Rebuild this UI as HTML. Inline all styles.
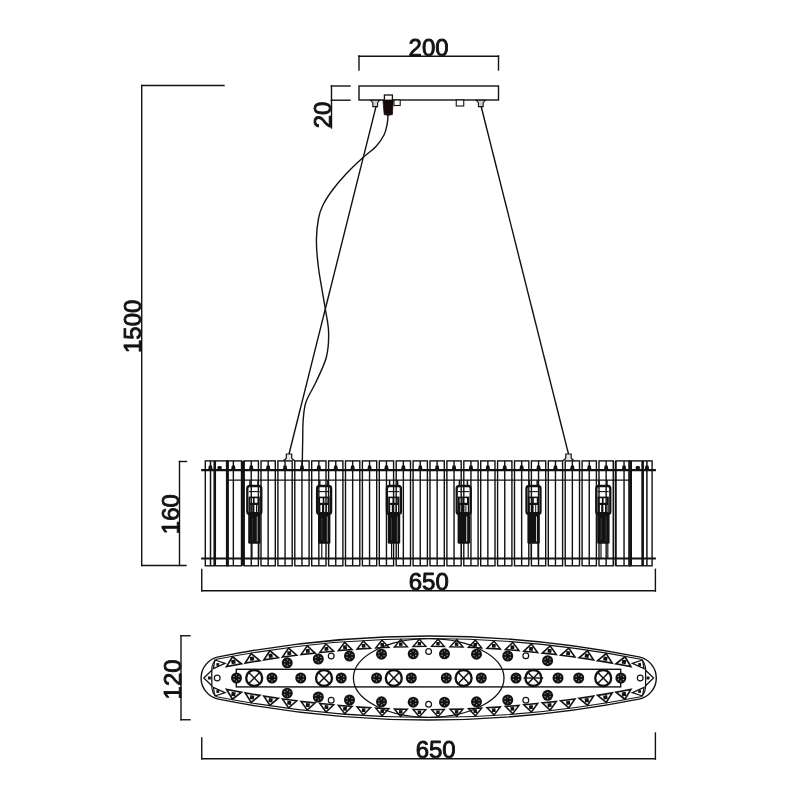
<!DOCTYPE html>
<html lang="en"><head><meta charset="utf-8"><title>Pendant lamp dimensions</title>
<style>
html,body{margin:0;padding:0;background:#fff;}
body{width:800px;height:800px;overflow:hidden;}
svg{display:block;will-change:transform;}
text{font-family:"Liberation Sans",sans-serif;}
</style></head><body>
<svg width="800" height="800" viewBox="0 0 800 800">
<rect width="800" height="800" fill="#ffffff"/>
<g id="dims" fill="none" stroke-linecap="square">
<line x1="359.00" y1="56.20" x2="498.50" y2="56.20" stroke="#121212" stroke-width="1.4" />
<line x1="359.00" y1="56.00" x2="359.00" y2="70.00" stroke="#121212" stroke-width="1.4" />
<line x1="498.50" y1="56.00" x2="498.50" y2="70.00" stroke="#121212" stroke-width="1.4" />
<line x1="331.30" y1="86.00" x2="350.00" y2="86.00" stroke="#121212" stroke-width="1.4" />
<line x1="331.30" y1="100.20" x2="350.00" y2="100.20" stroke="#121212" stroke-width="1.4" />
<line x1="331.50" y1="86.00" x2="331.50" y2="128.00" stroke="#121212" stroke-width="1.4" />
<line x1="141.70" y1="85.50" x2="224.00" y2="85.50" stroke="#121212" stroke-width="1.4" />
<line x1="141.70" y1="85.50" x2="141.70" y2="565.50" stroke="#121212" stroke-width="1.4" />
<line x1="141.70" y1="565.50" x2="186.00" y2="565.50" stroke="#121212" stroke-width="1.4" />
<line x1="179.50" y1="461.50" x2="179.50" y2="565.50" stroke="#121212" stroke-width="1.4" />
<line x1="179.50" y1="461.50" x2="186.50" y2="461.50" stroke="#121212" stroke-width="1.4" />
<line x1="201.75" y1="569.50" x2="201.75" y2="590.70" stroke="#121212" stroke-width="1.4" />
<line x1="201.75" y1="590.70" x2="655.40" y2="590.70" stroke="#121212" stroke-width="1.4" />
<line x1="655.40" y1="569.30" x2="655.40" y2="591.00" stroke="#121212" stroke-width="1.4" />
<line x1="181.00" y1="635.75" x2="181.00" y2="719.75" stroke="#121212" stroke-width="1.4" />
<line x1="181.00" y1="635.75" x2="190.00" y2="635.75" stroke="#121212" stroke-width="1.4" />
<line x1="181.00" y1="719.75" x2="190.00" y2="719.75" stroke="#121212" stroke-width="1.4" />
<line x1="201.75" y1="738.00" x2="201.75" y2="758.80" stroke="#121212" stroke-width="1.4" />
<line x1="201.75" y1="758.80" x2="655.40" y2="758.80" stroke="#121212" stroke-width="1.4" />
<line x1="655.40" y1="733.00" x2="655.40" y2="759.00" stroke="#121212" stroke-width="1.4" />
</g>
<g id="labels" font-family="'Liberation Sans', sans-serif" fill="#121212" stroke="#121212" stroke-width="0.9" stroke-linejoin="round">
<text x="428.6" y="55.6" font-size="24" text-anchor="middle">200</text>
<text transform="translate(330.8,115) rotate(-90)" font-size="24" text-anchor="middle">20</text>
<text transform="translate(141.3,326.3) rotate(-90)" font-size="24" text-anchor="middle">1500</text>
<text transform="translate(179.0,514.2) rotate(-90)" font-size="24" text-anchor="middle">160</text>
<text x="428.75" y="590.2" font-size="24" text-anchor="middle">650</text>
<text transform="translate(181.0,679.4) rotate(-90)" font-size="24" text-anchor="middle">120</text>
<text x="435.7" y="758.3" font-size="24" text-anchor="middle">650</text>
</g>
<g id="canopy">
<rect x="359" y="86" width="139.5" height="14" fill="#fff" stroke="#121212" stroke-width="1.4"/>
<rect x="394" y="100" width="6.2" height="5.5" fill="#fff" stroke="#121212" stroke-width="1.1"/>
<rect x="456.25" y="100" width="7.5" height="6" fill="#fff" stroke="#121212" stroke-width="1.1"/>
<path d="M370.59999999999997 100.3 L372.8 102.6 L372.8 106.6 L377.59999999999997 106.6 L377.59999999999997 102.6 L379.8 100.3 Z" fill="#cfcfcf" stroke="#121212" stroke-width="1.1"/>
<path d="M476.2 100.3 L478.40000000000003 102.6 L478.40000000000003 106.6 L483.2 106.6 L483.2 102.6 L485.40000000000003 100.3 Z" fill="#cfcfcf" stroke="#121212" stroke-width="1.1"/>
<rect x="384.4" y="95" width="8" height="6" fill="#fff" stroke="#121212" stroke-width="1.3"/>
<path d="M383 100 L393.2 100 L392.4 114.6 Q388 116 384.2 114.6 Z" fill="#160808" stroke="#160808" stroke-width="0.8"/>
</g>
<g id="wires" fill="none">
<line x1="376.00" y1="106.60" x2="289.00" y2="454.00" stroke="#121212" stroke-width="1.4" />
<line x1="481.30" y1="107.00" x2="568.50" y2="454.00" stroke="#121212" stroke-width="1.4" />
<path d="M388 115 C387.87 116.50 387.87 120.67 387.2 124 C386.53 127.33 385.95 131.17 384 135 C382.05 138.83 379.08 143.17 375.5 147 C371.92 150.83 367.42 153.50 362.5 158 C357.58 162.50 351.00 168.67 346 174 C341.00 179.33 336.33 184.83 332.5 190 C328.67 195.17 325.32 200.33 323 205 C320.68 209.67 319.70 212.17 318.6 218 C317.50 223.83 316.42 231.67 316.4 240 C316.38 248.33 317.07 256.83 318.5 268 C319.93 279.17 323.32 296.33 325 307 C326.68 317.67 328.37 323.67 328.6 332 C328.83 340.33 328.50 348.67 326.4 357 C324.30 365.33 319.40 374.50 316 382 C312.60 389.50 308.13 395.67 306 402 C303.87 408.33 303.75 413.67 303.2 420 C302.65 426.33 302.87 432.00 302.7 440 C302.53 448.00 302.28 463.33 302.2 468" stroke="#121212" stroke-width="1.4"/>
</g>
<g id="fixture">
<path d="M283.2 460.6 Q285.6 459.6 286.3 458 L286.3 454 L291.7 454 L291.7 458 Q292.4 459.6 294.8 460.6" fill="#e4e4e4" stroke="#121212" stroke-width="1.2"/>
<path d="M562.7 460.6 Q565.1 459.6 565.8 458 L565.8 454 L571.2 454 L571.2 458 Q571.9 459.6 574.3 460.6" fill="#e4e4e4" stroke="#121212" stroke-width="1.2"/>
<g transform="translate(254.20,0)">
<line x1="-4.20" y1="480.20" x2="-4.20" y2="486.00" stroke="#121212" stroke-width="1.5" />
<line x1="3.80" y1="480.20" x2="3.80" y2="486.00" stroke="#121212" stroke-width="1.5" />
<line x1="-2.20" y1="543.00" x2="-2.20" y2="558.50" stroke="#121212" stroke-width="1.2" />
<line x1="4.60" y1="543.00" x2="4.60" y2="558.50" stroke="#121212" stroke-width="1.2" />
<rect x="-6.9" y="486" width="14" height="28" rx="2.6" fill="#fff" stroke="#121212" stroke-width="2.3"/>
<line x1="-5.50" y1="491.60" x2="5.50" y2="491.60" stroke="#121212" stroke-width="1.1" />
<rect x="-5.6" y="496.6" width="11.2" height="16.5" fill="#121212"/>
<rect x="-3.9" y="498.2" width="2.6" height="4.6" fill="#fff"/>
<rect x="0.4" y="498.2" width="3" height="4.6" fill="#fff"/>
<rect x="-3.6" y="505" width="1.6" height="7" fill="#fff"/>
<rect x="0.2" y="505" width="1.6" height="7" fill="#fff"/>
<rect x="2.8" y="505" width="1.4" height="7" fill="#fff"/>
<rect x="-6.0" y="514" width="12.4" height="29.8" rx="1.6" fill="#121212"/>
<rect x="2.6" y="516.5" width="1.0" height="25" fill="#c8c8c8"/>
<rect x="-2.4" y="518" width="0.6" height="22" fill="#555"/>
</g>
<g transform="translate(324.00,0)">
<line x1="-4.20" y1="480.20" x2="-4.20" y2="486.00" stroke="#121212" stroke-width="1.5" />
<line x1="3.80" y1="480.20" x2="3.80" y2="486.00" stroke="#121212" stroke-width="1.5" />
<line x1="-2.20" y1="543.00" x2="-2.20" y2="558.50" stroke="#121212" stroke-width="1.2" />
<line x1="4.60" y1="543.00" x2="4.60" y2="558.50" stroke="#121212" stroke-width="1.2" />
<rect x="-6.9" y="486" width="14" height="28" rx="2.6" fill="#fff" stroke="#121212" stroke-width="2.3"/>
<line x1="-5.50" y1="491.60" x2="5.50" y2="491.60" stroke="#121212" stroke-width="1.1" />
<rect x="-5.6" y="496.6" width="11.2" height="16.5" fill="#121212"/>
<rect x="-3.9" y="498.2" width="2.6" height="4.6" fill="#fff"/>
<rect x="0.4" y="498.2" width="3" height="4.6" fill="#fff"/>
<rect x="-3.6" y="505" width="1.6" height="7" fill="#fff"/>
<rect x="0.2" y="505" width="1.6" height="7" fill="#fff"/>
<rect x="2.8" y="505" width="1.4" height="7" fill="#fff"/>
<rect x="-6.0" y="514" width="12.4" height="29.8" rx="1.6" fill="#121212"/>
<rect x="2.6" y="516.5" width="1.0" height="25" fill="#c8c8c8"/>
<rect x="-2.4" y="518" width="0.6" height="22" fill="#555"/>
</g>
<g transform="translate(393.80,0)">
<line x1="-4.20" y1="480.20" x2="-4.20" y2="486.00" stroke="#121212" stroke-width="1.5" />
<line x1="3.80" y1="480.20" x2="3.80" y2="486.00" stroke="#121212" stroke-width="1.5" />
<line x1="-2.20" y1="543.00" x2="-2.20" y2="558.50" stroke="#121212" stroke-width="1.2" />
<line x1="4.60" y1="543.00" x2="4.60" y2="558.50" stroke="#121212" stroke-width="1.2" />
<rect x="-6.9" y="486" width="14" height="28" rx="2.6" fill="#fff" stroke="#121212" stroke-width="2.3"/>
<line x1="-5.50" y1="491.60" x2="5.50" y2="491.60" stroke="#121212" stroke-width="1.1" />
<rect x="-5.6" y="496.6" width="11.2" height="16.5" fill="#121212"/>
<rect x="-3.9" y="498.2" width="2.6" height="4.6" fill="#fff"/>
<rect x="0.4" y="498.2" width="3" height="4.6" fill="#fff"/>
<rect x="-3.6" y="505" width="1.6" height="7" fill="#fff"/>
<rect x="0.2" y="505" width="1.6" height="7" fill="#fff"/>
<rect x="2.8" y="505" width="1.4" height="7" fill="#fff"/>
<rect x="-6.0" y="514" width="12.4" height="29.8" rx="1.6" fill="#121212"/>
<rect x="2.6" y="516.5" width="1.0" height="25" fill="#c8c8c8"/>
<rect x="-2.4" y="518" width="0.6" height="22" fill="#555"/>
</g>
<g transform="translate(463.60,0)">
<line x1="-4.20" y1="480.20" x2="-4.20" y2="486.00" stroke="#121212" stroke-width="1.5" />
<line x1="3.80" y1="480.20" x2="3.80" y2="486.00" stroke="#121212" stroke-width="1.5" />
<line x1="-2.20" y1="543.00" x2="-2.20" y2="558.50" stroke="#121212" stroke-width="1.2" />
<line x1="4.60" y1="543.00" x2="4.60" y2="558.50" stroke="#121212" stroke-width="1.2" />
<rect x="-6.9" y="486" width="14" height="28" rx="2.6" fill="#fff" stroke="#121212" stroke-width="2.3"/>
<line x1="-5.50" y1="491.60" x2="5.50" y2="491.60" stroke="#121212" stroke-width="1.1" />
<rect x="-5.6" y="496.6" width="11.2" height="16.5" fill="#121212"/>
<rect x="-3.9" y="498.2" width="2.6" height="4.6" fill="#fff"/>
<rect x="0.4" y="498.2" width="3" height="4.6" fill="#fff"/>
<rect x="-3.6" y="505" width="1.6" height="7" fill="#fff"/>
<rect x="0.2" y="505" width="1.6" height="7" fill="#fff"/>
<rect x="2.8" y="505" width="1.4" height="7" fill="#fff"/>
<rect x="-6.0" y="514" width="12.4" height="29.8" rx="1.6" fill="#121212"/>
<rect x="2.6" y="516.5" width="1.0" height="25" fill="#c8c8c8"/>
<rect x="-2.4" y="518" width="0.6" height="22" fill="#555"/>
</g>
<g transform="translate(533.40,0)">
<line x1="-4.20" y1="480.20" x2="-4.20" y2="486.00" stroke="#121212" stroke-width="1.5" />
<line x1="3.80" y1="480.20" x2="3.80" y2="486.00" stroke="#121212" stroke-width="1.5" />
<line x1="-2.20" y1="543.00" x2="-2.20" y2="558.50" stroke="#121212" stroke-width="1.2" />
<line x1="4.60" y1="543.00" x2="4.60" y2="558.50" stroke="#121212" stroke-width="1.2" />
<rect x="-6.9" y="486" width="14" height="28" rx="2.6" fill="#fff" stroke="#121212" stroke-width="2.3"/>
<line x1="-5.50" y1="491.60" x2="5.50" y2="491.60" stroke="#121212" stroke-width="1.1" />
<rect x="-5.6" y="496.6" width="11.2" height="16.5" fill="#121212"/>
<rect x="-3.9" y="498.2" width="2.6" height="4.6" fill="#fff"/>
<rect x="0.4" y="498.2" width="3" height="4.6" fill="#fff"/>
<rect x="-3.6" y="505" width="1.6" height="7" fill="#fff"/>
<rect x="0.2" y="505" width="1.6" height="7" fill="#fff"/>
<rect x="2.8" y="505" width="1.4" height="7" fill="#fff"/>
<rect x="-6.0" y="514" width="12.4" height="29.8" rx="1.6" fill="#121212"/>
<rect x="2.6" y="516.5" width="1.0" height="25" fill="#c8c8c8"/>
<rect x="-2.4" y="518" width="0.6" height="22" fill="#555"/>
</g>
<g transform="translate(603.20,0)">
<line x1="-4.20" y1="480.20" x2="-4.20" y2="486.00" stroke="#121212" stroke-width="1.5" />
<line x1="3.80" y1="480.20" x2="3.80" y2="486.00" stroke="#121212" stroke-width="1.5" />
<line x1="-2.20" y1="543.00" x2="-2.20" y2="558.50" stroke="#121212" stroke-width="1.2" />
<line x1="4.60" y1="543.00" x2="4.60" y2="558.50" stroke="#121212" stroke-width="1.2" />
<rect x="-6.9" y="486" width="14" height="28" rx="2.6" fill="#fff" stroke="#121212" stroke-width="2.3"/>
<line x1="-5.50" y1="491.60" x2="5.50" y2="491.60" stroke="#121212" stroke-width="1.1" />
<rect x="-5.6" y="496.6" width="11.2" height="16.5" fill="#121212"/>
<rect x="-3.9" y="498.2" width="2.6" height="4.6" fill="#fff"/>
<rect x="0.4" y="498.2" width="3" height="4.6" fill="#fff"/>
<rect x="-3.6" y="505" width="1.6" height="7" fill="#fff"/>
<rect x="0.2" y="505" width="1.6" height="7" fill="#fff"/>
<rect x="2.8" y="505" width="1.4" height="7" fill="#fff"/>
<rect x="-6.0" y="514" width="12.4" height="29.8" rx="1.6" fill="#121212"/>
<rect x="2.6" y="516.5" width="1.0" height="25" fill="#c8c8c8"/>
<rect x="-2.4" y="518" width="0.6" height="22" fill="#555"/>
</g>
<rect x="227.20" y="460.9" width="14.30" height="104.90" fill="none" stroke="#121212" stroke-width="1.4"/>
<line x1="233.35" y1="460.90" x2="233.35" y2="565.80" stroke="#121212" stroke-width="1.4" />
<path d="M231.05 470.1 L231.85 465.6 L234.85 465.6 L235.65 470.1 Z" fill="#121212"/>
<rect x="244.10" y="460.9" width="14.30" height="104.90" fill="none" stroke="#121212" stroke-width="1.4"/>
<line x1="251.25" y1="460.90" x2="251.25" y2="565.80" stroke="#121212" stroke-width="1.4" />
<path d="M248.95 470.1 L249.75 465.6 L252.75 465.6 L253.55 470.1 Z" fill="#121212"/>
<rect x="261.00" y="460.9" width="14.30" height="104.90" fill="none" stroke="#121212" stroke-width="1.4"/>
<line x1="268.15" y1="460.90" x2="268.15" y2="565.80" stroke="#121212" stroke-width="1.4" />
<path d="M265.85 470.1 L266.65 465.6 L269.65 465.6 L270.45 470.1 Z" fill="#121212"/>
<rect x="277.90" y="460.9" width="14.30" height="104.90" fill="none" stroke="#121212" stroke-width="1.4"/>
<line x1="285.05" y1="460.90" x2="285.05" y2="565.80" stroke="#121212" stroke-width="1.4" />
<path d="M282.75 470.1 L283.55 465.6 L286.55 465.6 L287.35 470.1 Z" fill="#121212"/>
<rect x="294.80" y="460.9" width="14.30" height="104.90" fill="none" stroke="#121212" stroke-width="1.4"/>
<line x1="301.95" y1="460.90" x2="301.95" y2="565.80" stroke="#121212" stroke-width="1.4" />
<path d="M299.65 470.1 L300.45 465.6 L303.45 465.6 L304.25 470.1 Z" fill="#121212"/>
<rect x="311.70" y="460.9" width="14.30" height="104.90" fill="none" stroke="#121212" stroke-width="1.4"/>
<line x1="318.85" y1="460.90" x2="318.85" y2="565.80" stroke="#121212" stroke-width="1.4" />
<path d="M316.55 470.1 L317.35 465.6 L320.35 465.6 L321.15 470.1 Z" fill="#121212"/>
<rect x="328.60" y="460.9" width="14.30" height="104.90" fill="none" stroke="#121212" stroke-width="1.4"/>
<line x1="335.75" y1="460.90" x2="335.75" y2="565.80" stroke="#121212" stroke-width="1.4" />
<path d="M333.45 470.1 L334.25 465.6 L337.25 465.6 L338.05 470.1 Z" fill="#121212"/>
<rect x="345.50" y="460.9" width="14.30" height="104.90" fill="none" stroke="#121212" stroke-width="1.4"/>
<line x1="352.65" y1="460.90" x2="352.65" y2="565.80" stroke="#121212" stroke-width="1.4" />
<path d="M350.35 470.1 L351.15 465.6 L354.15 465.6 L354.95 470.1 Z" fill="#121212"/>
<rect x="362.40" y="460.9" width="14.30" height="104.90" fill="none" stroke="#121212" stroke-width="1.4"/>
<line x1="369.55" y1="460.90" x2="369.55" y2="565.80" stroke="#121212" stroke-width="1.4" />
<path d="M367.25 470.1 L368.05 465.6 L371.05 465.6 L371.85 470.1 Z" fill="#121212"/>
<rect x="379.30" y="460.9" width="14.30" height="104.90" fill="none" stroke="#121212" stroke-width="1.4"/>
<line x1="386.45" y1="460.90" x2="386.45" y2="565.80" stroke="#121212" stroke-width="1.4" />
<path d="M384.15 470.1 L384.95 465.6 L387.95 465.6 L388.75 470.1 Z" fill="#121212"/>
<rect x="396.20" y="460.9" width="14.30" height="104.90" fill="none" stroke="#121212" stroke-width="1.4"/>
<line x1="403.35" y1="460.90" x2="403.35" y2="565.80" stroke="#121212" stroke-width="1.4" />
<path d="M401.05 470.1 L401.85 465.6 L404.85 465.6 L405.65 470.1 Z" fill="#121212"/>
<rect x="413.10" y="460.9" width="14.30" height="104.90" fill="none" stroke="#121212" stroke-width="1.4"/>
<line x1="420.25" y1="460.90" x2="420.25" y2="565.80" stroke="#121212" stroke-width="1.4" />
<path d="M417.95 470.1 L418.75 465.6 L421.75 465.6 L422.55 470.1 Z" fill="#121212"/>
<rect x="430.00" y="460.9" width="14.30" height="104.90" fill="none" stroke="#121212" stroke-width="1.4"/>
<line x1="437.15" y1="460.90" x2="437.15" y2="565.80" stroke="#121212" stroke-width="1.4" />
<path d="M434.85 470.1 L435.65 465.6 L438.65 465.6 L439.45 470.1 Z" fill="#121212"/>
<rect x="446.90" y="460.9" width="14.30" height="104.90" fill="none" stroke="#121212" stroke-width="1.4"/>
<line x1="454.05" y1="460.90" x2="454.05" y2="565.80" stroke="#121212" stroke-width="1.4" />
<path d="M451.75 470.1 L452.55 465.6 L455.55 465.6 L456.35 470.1 Z" fill="#121212"/>
<rect x="463.80" y="460.9" width="14.30" height="104.90" fill="none" stroke="#121212" stroke-width="1.4"/>
<line x1="470.95" y1="460.90" x2="470.95" y2="565.80" stroke="#121212" stroke-width="1.4" />
<path d="M468.65 470.1 L469.45 465.6 L472.45 465.6 L473.25 470.1 Z" fill="#121212"/>
<rect x="480.70" y="460.9" width="14.30" height="104.90" fill="none" stroke="#121212" stroke-width="1.4"/>
<line x1="487.85" y1="460.90" x2="487.85" y2="565.80" stroke="#121212" stroke-width="1.4" />
<path d="M485.55 470.1 L486.35 465.6 L489.35 465.6 L490.15 470.1 Z" fill="#121212"/>
<rect x="497.60" y="460.9" width="14.30" height="104.90" fill="none" stroke="#121212" stroke-width="1.4"/>
<line x1="504.75" y1="460.90" x2="504.75" y2="565.80" stroke="#121212" stroke-width="1.4" />
<path d="M502.45 470.1 L503.25 465.6 L506.25 465.6 L507.05 470.1 Z" fill="#121212"/>
<rect x="514.50" y="460.9" width="14.30" height="104.90" fill="none" stroke="#121212" stroke-width="1.4"/>
<line x1="521.65" y1="460.90" x2="521.65" y2="565.80" stroke="#121212" stroke-width="1.4" />
<path d="M519.35 470.1 L520.15 465.6 L523.15 465.6 L523.95 470.1 Z" fill="#121212"/>
<rect x="531.40" y="460.9" width="14.30" height="104.90" fill="none" stroke="#121212" stroke-width="1.4"/>
<line x1="538.55" y1="460.90" x2="538.55" y2="565.80" stroke="#121212" stroke-width="1.4" />
<path d="M536.25 470.1 L537.05 465.6 L540.05 465.6 L540.85 470.1 Z" fill="#121212"/>
<rect x="548.30" y="460.9" width="14.30" height="104.90" fill="none" stroke="#121212" stroke-width="1.4"/>
<line x1="555.45" y1="460.90" x2="555.45" y2="565.80" stroke="#121212" stroke-width="1.4" />
<path d="M553.15 470.1 L553.95 465.6 L556.95 465.6 L557.75 470.1 Z" fill="#121212"/>
<rect x="565.20" y="460.9" width="14.30" height="104.90" fill="none" stroke="#121212" stroke-width="1.4"/>
<line x1="572.35" y1="460.90" x2="572.35" y2="565.80" stroke="#121212" stroke-width="1.4" />
<path d="M570.05 470.1 L570.85 465.6 L573.85 465.6 L574.65 470.1 Z" fill="#121212"/>
<rect x="582.10" y="460.9" width="14.30" height="104.90" fill="none" stroke="#121212" stroke-width="1.4"/>
<line x1="589.25" y1="460.90" x2="589.25" y2="565.80" stroke="#121212" stroke-width="1.4" />
<path d="M586.95 470.1 L587.75 465.6 L590.75 465.6 L591.55 470.1 Z" fill="#121212"/>
<rect x="599.00" y="460.9" width="14.30" height="104.90" fill="none" stroke="#121212" stroke-width="1.4"/>
<line x1="606.15" y1="460.90" x2="606.15" y2="565.80" stroke="#121212" stroke-width="1.4" />
<path d="M603.85 470.1 L604.65 465.6 L607.65 465.6 L608.45 470.1 Z" fill="#121212"/>
<rect x="615.90" y="460.9" width="14.30" height="104.90" fill="none" stroke="#121212" stroke-width="1.4"/>
<line x1="624.05" y1="460.90" x2="624.05" y2="565.80" stroke="#121212" stroke-width="1.4" />
<path d="M621.75 470.1 L622.55 465.6 L625.55 465.6 L626.35 470.1 Z" fill="#121212"/>
<rect x="205.30" y="460.9" width="22.10" height="104.90" fill="none" stroke="#121212" stroke-width="1.4"/>
<line x1="210.50" y1="460.90" x2="210.50" y2="565.80" stroke="#121212" stroke-width="1.5" />
<line x1="214.75" y1="460.90" x2="214.75" y2="565.80" stroke="#121212" stroke-width="2.6" />
<path d="M208.10 470.1 L208.90 465.6 L211.90 465.6 L212.70 470.1 Z" fill="#121212"/>
<rect x="217.50" y="466" width="4.2" height="4" rx="1.2" fill="#121212"/>
<rect x="630.00" y="460.9" width="22.10" height="104.90" fill="none" stroke="#121212" stroke-width="1.4"/>
<line x1="646.90" y1="460.90" x2="646.90" y2="565.80" stroke="#121212" stroke-width="1.5" />
<line x1="642.65" y1="460.90" x2="642.65" y2="565.80" stroke="#121212" stroke-width="2.6" />
<path d="M644.70 470.1 L645.50 465.6 L648.50 465.6 L649.30 470.1 Z" fill="#121212"/>
<rect x="635.70" y="466" width="4.2" height="4" rx="1.2" fill="#121212"/>
<line x1="243.25" y1="460.90" x2="243.25" y2="565.80" stroke="#121212" stroke-width="2.6" />
<line x1="227.40" y1="460.90" x2="227.40" y2="565.80" stroke="#121212" stroke-width="3.0" />
<line x1="613.60" y1="460.90" x2="613.60" y2="565.80" stroke="#121212" stroke-width="1.4" />
<line x1="615.70" y1="460.90" x2="615.70" y2="565.80" stroke="#121212" stroke-width="1.4" />
<line x1="628.90" y1="460.90" x2="628.90" y2="565.80" stroke="#121212" stroke-width="1.4" />
<line x1="631.30" y1="460.90" x2="631.30" y2="565.80" stroke="#121212" stroke-width="1.4" />
<line x1="201.20" y1="470.10" x2="655.90" y2="470.10" stroke="#121212" stroke-width="2.1" />
<line x1="201.20" y1="558.50" x2="655.90" y2="558.50" stroke="#121212" stroke-width="2.1" />
<line x1="226.30" y1="480.20" x2="631.10" y2="480.20" stroke="#121212" stroke-width="1.2" />
</g>
<g id="topview" fill="none">
<path d="M218.46 656.86 A1080.0 1080.0 0 0 1 638.94 656.86 A21.55 21.55 0 0 1 638.94 699.14 A1080.0 1080.0 0 0 1 218.46 699.14 A21.55 21.55 0 0 1 218.46 656.86 Z" stroke="#121212" stroke-width="1.4"/>
<path d="M211.70 671.0 Q211.70 662.32 216.70 659.32 A1100.0 1100.0 0 0 1 640.70 659.32 Q645.70 662.32 645.70 671.0" stroke="#121212" stroke-width="1.1"/>
<path d="M211.70 685.0 Q211.70 693.68 216.70 696.68 A1100.0 1100.0 0 0 0 640.70 696.68 Q645.70 693.68 645.70 685.0" stroke="#121212" stroke-width="1.1"/>
<ellipse cx="428.7" cy="678.0" rx="75.3" ry="39.3" stroke="#121212" stroke-width="1.3"/>
<rect x="236.3" y="669.3" width="384.4" height="17.6" stroke="#121212" stroke-width="1.4"/>
<g transform="translate(419.40,643.58) rotate(-0.48) scale(1.010)">
<path d="M0 -4.3 L6.3 2.8 L-6.3 2.8 Z" stroke="#121212" stroke-width="1.4" stroke-linejoin="miter"/>
<rect x="-1.7" y="-1.6" width="3.4" height="3.4" fill="#121212"/>
</g>
<g transform="translate(419.40,712.42) rotate(180.48) scale(1.010)">
<path d="M0 -4.3 L6.3 2.8 L-6.3 2.8 Z" stroke="#121212" stroke-width="1.4" stroke-linejoin="miter"/>
<rect x="-1.7" y="-1.6" width="3.4" height="3.4" fill="#121212"/>
</g>
<g transform="translate(438.00,643.58) rotate(0.48) scale(1.010)">
<path d="M0 -4.3 L6.3 2.8 L-6.3 2.8 Z" stroke="#121212" stroke-width="1.4" stroke-linejoin="miter"/>
<rect x="-1.7" y="-1.6" width="3.4" height="3.4" fill="#121212"/>
</g>
<g transform="translate(438.00,712.42) rotate(179.52) scale(1.010)">
<path d="M0 -4.3 L6.3 2.8 L-6.3 2.8 Z" stroke="#121212" stroke-width="1.4" stroke-linejoin="miter"/>
<rect x="-1.7" y="-1.6" width="3.4" height="3.4" fill="#121212"/>
</g>
<g transform="translate(400.80,643.98) rotate(-1.45) scale(1.029)">
<path d="M0 -4.3 L6.3 2.8 L-6.3 2.8 Z" stroke="#121212" stroke-width="1.4" stroke-linejoin="miter"/>
<rect x="-1.7" y="-1.6" width="3.4" height="3.4" fill="#121212"/>
</g>
<g transform="translate(400.80,712.02) rotate(181.45) scale(1.029)">
<path d="M0 -4.3 L6.3 2.8 L-6.3 2.8 Z" stroke="#121212" stroke-width="1.4" stroke-linejoin="miter"/>
<rect x="-1.7" y="-1.6" width="3.4" height="3.4" fill="#121212"/>
</g>
<g transform="translate(456.60,643.98) rotate(1.45) scale(1.029)">
<path d="M0 -4.3 L6.3 2.8 L-6.3 2.8 Z" stroke="#121212" stroke-width="1.4" stroke-linejoin="miter"/>
<rect x="-1.7" y="-1.6" width="3.4" height="3.4" fill="#121212"/>
</g>
<g transform="translate(456.60,712.02) rotate(178.55) scale(1.029)">
<path d="M0 -4.3 L6.3 2.8 L-6.3 2.8 Z" stroke="#121212" stroke-width="1.4" stroke-linejoin="miter"/>
<rect x="-1.7" y="-1.6" width="3.4" height="3.4" fill="#121212"/>
</g>
<g transform="translate(382.20,644.69) rotate(-2.42) scale(1.048)">
<path d="M0 -4.3 L6.3 2.8 L-6.3 2.8 Z" stroke="#121212" stroke-width="1.4" stroke-linejoin="miter"/>
<rect x="-1.7" y="-1.6" width="3.4" height="3.4" fill="#121212"/>
</g>
<g transform="translate(382.20,711.31) rotate(182.42) scale(1.048)">
<path d="M0 -4.3 L6.3 2.8 L-6.3 2.8 Z" stroke="#121212" stroke-width="1.4" stroke-linejoin="miter"/>
<rect x="-1.7" y="-1.6" width="3.4" height="3.4" fill="#121212"/>
</g>
<g transform="translate(475.20,644.69) rotate(2.42) scale(1.048)">
<path d="M0 -4.3 L6.3 2.8 L-6.3 2.8 Z" stroke="#121212" stroke-width="1.4" stroke-linejoin="miter"/>
<rect x="-1.7" y="-1.6" width="3.4" height="3.4" fill="#121212"/>
</g>
<g transform="translate(475.20,711.31) rotate(177.58) scale(1.048)">
<path d="M0 -4.3 L6.3 2.8 L-6.3 2.8 Z" stroke="#121212" stroke-width="1.4" stroke-linejoin="miter"/>
<rect x="-1.7" y="-1.6" width="3.4" height="3.4" fill="#121212"/>
</g>
<g transform="translate(363.60,645.72) rotate(-3.39) scale(1.067)">
<path d="M0 -4.3 L6.3 2.8 L-6.3 2.8 Z" stroke="#121212" stroke-width="1.4" stroke-linejoin="miter"/>
<rect x="-1.7" y="-1.6" width="3.4" height="3.4" fill="#121212"/>
</g>
<g transform="translate(363.60,710.28) rotate(183.39) scale(1.067)">
<path d="M0 -4.3 L6.3 2.8 L-6.3 2.8 Z" stroke="#121212" stroke-width="1.4" stroke-linejoin="miter"/>
<rect x="-1.7" y="-1.6" width="3.4" height="3.4" fill="#121212"/>
</g>
<g transform="translate(493.80,645.72) rotate(3.39) scale(1.067)">
<path d="M0 -4.3 L6.3 2.8 L-6.3 2.8 Z" stroke="#121212" stroke-width="1.4" stroke-linejoin="miter"/>
<rect x="-1.7" y="-1.6" width="3.4" height="3.4" fill="#121212"/>
</g>
<g transform="translate(493.80,710.28) rotate(176.61) scale(1.067)">
<path d="M0 -4.3 L6.3 2.8 L-6.3 2.8 Z" stroke="#121212" stroke-width="1.4" stroke-linejoin="miter"/>
<rect x="-1.7" y="-1.6" width="3.4" height="3.4" fill="#121212"/>
</g>
<g transform="translate(345.00,647.07) rotate(-4.36) scale(1.086)">
<path d="M0 -4.3 L6.3 2.8 L-6.3 2.8 Z" stroke="#121212" stroke-width="1.4" stroke-linejoin="miter"/>
<rect x="-1.7" y="-1.6" width="3.4" height="3.4" fill="#121212"/>
</g>
<g transform="translate(345.00,708.93) rotate(184.36) scale(1.086)">
<path d="M0 -4.3 L6.3 2.8 L-6.3 2.8 Z" stroke="#121212" stroke-width="1.4" stroke-linejoin="miter"/>
<rect x="-1.7" y="-1.6" width="3.4" height="3.4" fill="#121212"/>
</g>
<g transform="translate(512.40,647.07) rotate(4.36) scale(1.086)">
<path d="M0 -4.3 L6.3 2.8 L-6.3 2.8 Z" stroke="#121212" stroke-width="1.4" stroke-linejoin="miter"/>
<rect x="-1.7" y="-1.6" width="3.4" height="3.4" fill="#121212"/>
</g>
<g transform="translate(512.40,708.93) rotate(175.64) scale(1.086)">
<path d="M0 -4.3 L6.3 2.8 L-6.3 2.8 Z" stroke="#121212" stroke-width="1.4" stroke-linejoin="miter"/>
<rect x="-1.7" y="-1.6" width="3.4" height="3.4" fill="#121212"/>
</g>
<g transform="translate(326.40,648.73) rotate(-5.34) scale(1.105)">
<path d="M0 -4.3 L6.3 2.8 L-6.3 2.8 Z" stroke="#121212" stroke-width="1.4" stroke-linejoin="miter"/>
<rect x="-1.7" y="-1.6" width="3.4" height="3.4" fill="#121212"/>
</g>
<g transform="translate(326.40,707.27) rotate(185.34) scale(1.105)">
<path d="M0 -4.3 L6.3 2.8 L-6.3 2.8 Z" stroke="#121212" stroke-width="1.4" stroke-linejoin="miter"/>
<rect x="-1.7" y="-1.6" width="3.4" height="3.4" fill="#121212"/>
</g>
<g transform="translate(531.00,648.73) rotate(5.34) scale(1.105)">
<path d="M0 -4.3 L6.3 2.8 L-6.3 2.8 Z" stroke="#121212" stroke-width="1.4" stroke-linejoin="miter"/>
<rect x="-1.7" y="-1.6" width="3.4" height="3.4" fill="#121212"/>
</g>
<g transform="translate(531.00,707.27) rotate(174.66) scale(1.105)">
<path d="M0 -4.3 L6.3 2.8 L-6.3 2.8 Z" stroke="#121212" stroke-width="1.4" stroke-linejoin="miter"/>
<rect x="-1.7" y="-1.6" width="3.4" height="3.4" fill="#121212"/>
</g>
<g transform="translate(307.80,650.71) rotate(-6.31) scale(1.124)">
<path d="M0 -4.3 L6.3 2.8 L-6.3 2.8 Z" stroke="#121212" stroke-width="1.4" stroke-linejoin="miter"/>
<rect x="-1.7" y="-1.6" width="3.4" height="3.4" fill="#121212"/>
</g>
<g transform="translate(307.80,705.29) rotate(186.31) scale(1.124)">
<path d="M0 -4.3 L6.3 2.8 L-6.3 2.8 Z" stroke="#121212" stroke-width="1.4" stroke-linejoin="miter"/>
<rect x="-1.7" y="-1.6" width="3.4" height="3.4" fill="#121212"/>
</g>
<g transform="translate(549.60,650.71) rotate(6.31) scale(1.124)">
<path d="M0 -4.3 L6.3 2.8 L-6.3 2.8 Z" stroke="#121212" stroke-width="1.4" stroke-linejoin="miter"/>
<rect x="-1.7" y="-1.6" width="3.4" height="3.4" fill="#121212"/>
</g>
<g transform="translate(549.60,705.29) rotate(173.69) scale(1.124)">
<path d="M0 -4.3 L6.3 2.8 L-6.3 2.8 Z" stroke="#121212" stroke-width="1.4" stroke-linejoin="miter"/>
<rect x="-1.7" y="-1.6" width="3.4" height="3.4" fill="#121212"/>
</g>
<g transform="translate(289.20,653.01) rotate(-7.29) scale(1.143)">
<path d="M0 -4.3 L6.3 2.8 L-6.3 2.8 Z" stroke="#121212" stroke-width="1.4" stroke-linejoin="miter"/>
<rect x="-1.7" y="-1.6" width="3.4" height="3.4" fill="#121212"/>
</g>
<g transform="translate(289.20,702.99) rotate(187.29) scale(1.143)">
<path d="M0 -4.3 L6.3 2.8 L-6.3 2.8 Z" stroke="#121212" stroke-width="1.4" stroke-linejoin="miter"/>
<rect x="-1.7" y="-1.6" width="3.4" height="3.4" fill="#121212"/>
</g>
<g transform="translate(568.20,653.01) rotate(7.29) scale(1.143)">
<path d="M0 -4.3 L6.3 2.8 L-6.3 2.8 Z" stroke="#121212" stroke-width="1.4" stroke-linejoin="miter"/>
<rect x="-1.7" y="-1.6" width="3.4" height="3.4" fill="#121212"/>
</g>
<g transform="translate(568.20,702.99) rotate(172.71) scale(1.143)">
<path d="M0 -4.3 L6.3 2.8 L-6.3 2.8 Z" stroke="#121212" stroke-width="1.4" stroke-linejoin="miter"/>
<rect x="-1.7" y="-1.6" width="3.4" height="3.4" fill="#121212"/>
</g>
<g transform="translate(270.60,655.63) rotate(-8.26) scale(1.162)">
<path d="M0 -4.3 L6.3 2.8 L-6.3 2.8 Z" stroke="#121212" stroke-width="1.4" stroke-linejoin="miter"/>
<rect x="-1.7" y="-1.6" width="3.4" height="3.4" fill="#121212"/>
</g>
<g transform="translate(270.60,700.37) rotate(188.26) scale(1.162)">
<path d="M0 -4.3 L6.3 2.8 L-6.3 2.8 Z" stroke="#121212" stroke-width="1.4" stroke-linejoin="miter"/>
<rect x="-1.7" y="-1.6" width="3.4" height="3.4" fill="#121212"/>
</g>
<g transform="translate(586.80,655.63) rotate(8.26) scale(1.162)">
<path d="M0 -4.3 L6.3 2.8 L-6.3 2.8 Z" stroke="#121212" stroke-width="1.4" stroke-linejoin="miter"/>
<rect x="-1.7" y="-1.6" width="3.4" height="3.4" fill="#121212"/>
</g>
<g transform="translate(586.80,700.37) rotate(171.74) scale(1.162)">
<path d="M0 -4.3 L6.3 2.8 L-6.3 2.8 Z" stroke="#121212" stroke-width="1.4" stroke-linejoin="miter"/>
<rect x="-1.7" y="-1.6" width="3.4" height="3.4" fill="#121212"/>
</g>
<g transform="translate(252.00,658.58) rotate(-9.24) scale(1.181)">
<path d="M0 -4.3 L6.3 2.8 L-6.3 2.8 Z" stroke="#121212" stroke-width="1.4" stroke-linejoin="miter"/>
<rect x="-1.7" y="-1.6" width="3.4" height="3.4" fill="#121212"/>
</g>
<g transform="translate(252.00,697.42) rotate(189.24) scale(1.181)">
<path d="M0 -4.3 L6.3 2.8 L-6.3 2.8 Z" stroke="#121212" stroke-width="1.4" stroke-linejoin="miter"/>
<rect x="-1.7" y="-1.6" width="3.4" height="3.4" fill="#121212"/>
</g>
<g transform="translate(605.40,658.58) rotate(9.24) scale(1.181)">
<path d="M0 -4.3 L6.3 2.8 L-6.3 2.8 Z" stroke="#121212" stroke-width="1.4" stroke-linejoin="miter"/>
<rect x="-1.7" y="-1.6" width="3.4" height="3.4" fill="#121212"/>
</g>
<g transform="translate(605.40,697.42) rotate(170.76) scale(1.181)">
<path d="M0 -4.3 L6.3 2.8 L-6.3 2.8 Z" stroke="#121212" stroke-width="1.4" stroke-linejoin="miter"/>
<rect x="-1.7" y="-1.6" width="3.4" height="3.4" fill="#121212"/>
</g>
<g transform="translate(233.40,661.86) rotate(-10.23) scale(1.200)">
<path d="M0 -4.3 L6.3 2.8 L-6.3 2.8 Z" stroke="#121212" stroke-width="1.4" stroke-linejoin="miter"/>
<rect x="-1.7" y="-1.6" width="3.4" height="3.4" fill="#121212"/>
</g>
<g transform="translate(233.40,694.14) rotate(190.23) scale(1.200)">
<path d="M0 -4.3 L6.3 2.8 L-6.3 2.8 Z" stroke="#121212" stroke-width="1.4" stroke-linejoin="miter"/>
<rect x="-1.7" y="-1.6" width="3.4" height="3.4" fill="#121212"/>
</g>
<g transform="translate(624.00,661.86) rotate(10.23) scale(1.200)">
<path d="M0 -4.3 L6.3 2.8 L-6.3 2.8 Z" stroke="#121212" stroke-width="1.4" stroke-linejoin="miter"/>
<rect x="-1.7" y="-1.6" width="3.4" height="3.4" fill="#121212"/>
</g>
<g transform="translate(624.00,694.14) rotate(169.77) scale(1.200)">
<path d="M0 -4.3 L6.3 2.8 L-6.3 2.8 Z" stroke="#121212" stroke-width="1.4" stroke-linejoin="miter"/>
<rect x="-1.7" y="-1.6" width="3.4" height="3.4" fill="#121212"/>
</g>
<path d="M214.90 696.00 L225.10 692.70 L213.30 687.40 Z" stroke="#121212" stroke-width="1.25"/>
<rect x="216.40" y="690.10" width="2.8" height="2.8" fill="#121212"/>
<path d="M214.90 660.00 L225.10 663.30 L213.30 668.60 Z" stroke="#121212" stroke-width="1.25"/>
<rect x="216.40" y="663.10" width="2.8" height="2.8" fill="#121212"/>
<path d="M642.50 696.00 L632.30 692.70 L644.10 687.40 Z" stroke="#121212" stroke-width="1.25"/>
<rect x="638.20" y="690.10" width="2.8" height="2.8" fill="#121212"/>
<path d="M642.50 660.00 L632.30 663.30 L644.10 668.60 Z" stroke="#121212" stroke-width="1.25"/>
<rect x="638.20" y="663.10" width="2.8" height="2.8" fill="#121212"/>
<path d="M203.80 678.0 L211.80 670.2 L211.80 685.8 Z" stroke="#121212" stroke-width="1.25"/>
<rect x="207.90" y="676.5" width="3" height="3" fill="#121212"/>
<path d="M653.60 678.0 L645.60 670.2 L645.60 685.8 Z" stroke="#121212" stroke-width="1.25"/>
<rect x="646.50" y="676.5" width="3" height="3" fill="#121212"/>
<circle cx="254.20" cy="678.0" r="8.0" fill="#fff" stroke="#121212" stroke-width="2.3"/>
<line x1="248.51" y1="672.31" x2="259.89" y2="683.69" stroke="#121212" stroke-width="1.5" />
<line x1="248.51" y1="683.69" x2="259.89" y2="672.31" stroke="#121212" stroke-width="1.5" />
<circle cx="324.00" cy="678.0" r="8.0" fill="#fff" stroke="#121212" stroke-width="2.3"/>
<line x1="318.31" y1="672.31" x2="329.69" y2="683.69" stroke="#121212" stroke-width="1.5" />
<line x1="318.31" y1="683.69" x2="329.69" y2="672.31" stroke="#121212" stroke-width="1.5" />
<circle cx="393.80" cy="678.0" r="8.0" fill="#fff" stroke="#121212" stroke-width="2.3"/>
<line x1="388.11" y1="672.31" x2="399.49" y2="683.69" stroke="#121212" stroke-width="1.5" />
<line x1="388.11" y1="683.69" x2="399.49" y2="672.31" stroke="#121212" stroke-width="1.5" />
<circle cx="463.60" cy="678.0" r="8.0" fill="#fff" stroke="#121212" stroke-width="2.3"/>
<line x1="457.91" y1="672.31" x2="469.29" y2="683.69" stroke="#121212" stroke-width="1.5" />
<line x1="457.91" y1="683.69" x2="469.29" y2="672.31" stroke="#121212" stroke-width="1.5" />
<circle cx="533.40" cy="678.0" r="8.0" fill="#fff" stroke="#121212" stroke-width="2.3"/>
<line x1="527.71" y1="672.31" x2="539.09" y2="683.69" stroke="#121212" stroke-width="1.5" />
<line x1="527.71" y1="683.69" x2="539.09" y2="672.31" stroke="#121212" stroke-width="1.5" />
<line x1="523.60" y1="678.00" x2="543.20" y2="678.00" stroke="#121212" stroke-width="1.4" />
<circle cx="603.20" cy="678.0" r="8.0" fill="#fff" stroke="#121212" stroke-width="2.3"/>
<line x1="597.51" y1="672.31" x2="608.89" y2="683.69" stroke="#121212" stroke-width="1.5" />
<line x1="597.51" y1="683.69" x2="608.89" y2="672.31" stroke="#121212" stroke-width="1.5" />
<circle cx="236.50" cy="678.00" r="5.5" fill="#121212"/>
<circle cx="239.01" cy="679.45" r="0.7" fill="#9c9c9c"/>
<circle cx="236.50" cy="680.90" r="0.7" fill="#9c9c9c"/>
<circle cx="233.99" cy="679.45" r="0.7" fill="#9c9c9c"/>
<circle cx="233.99" cy="676.55" r="0.7" fill="#9c9c9c"/>
<circle cx="236.50" cy="675.10" r="0.7" fill="#9c9c9c"/>
<circle cx="239.01" cy="676.55" r="0.7" fill="#9c9c9c"/>
<circle cx="272.00" cy="678.00" r="5.5" fill="#121212"/>
<circle cx="274.51" cy="679.45" r="0.7" fill="#9c9c9c"/>
<circle cx="272.00" cy="680.90" r="0.7" fill="#9c9c9c"/>
<circle cx="269.49" cy="679.45" r="0.7" fill="#9c9c9c"/>
<circle cx="269.49" cy="676.55" r="0.7" fill="#9c9c9c"/>
<circle cx="272.00" cy="675.10" r="0.7" fill="#9c9c9c"/>
<circle cx="274.51" cy="676.55" r="0.7" fill="#9c9c9c"/>
<circle cx="300.75" cy="678.00" r="5.5" fill="#121212"/>
<circle cx="303.26" cy="679.45" r="0.7" fill="#9c9c9c"/>
<circle cx="300.75" cy="680.90" r="0.7" fill="#9c9c9c"/>
<circle cx="298.24" cy="679.45" r="0.7" fill="#9c9c9c"/>
<circle cx="298.24" cy="676.55" r="0.7" fill="#9c9c9c"/>
<circle cx="300.75" cy="675.10" r="0.7" fill="#9c9c9c"/>
<circle cx="303.26" cy="676.55" r="0.7" fill="#9c9c9c"/>
<circle cx="341.25" cy="678.00" r="5.5" fill="#121212"/>
<circle cx="343.76" cy="679.45" r="0.7" fill="#9c9c9c"/>
<circle cx="341.25" cy="680.90" r="0.7" fill="#9c9c9c"/>
<circle cx="338.74" cy="679.45" r="0.7" fill="#9c9c9c"/>
<circle cx="338.74" cy="676.55" r="0.7" fill="#9c9c9c"/>
<circle cx="341.25" cy="675.10" r="0.7" fill="#9c9c9c"/>
<circle cx="343.76" cy="676.55" r="0.7" fill="#9c9c9c"/>
<circle cx="376.60" cy="678.00" r="5.5" fill="#121212"/>
<circle cx="379.11" cy="679.45" r="0.7" fill="#9c9c9c"/>
<circle cx="376.60" cy="680.90" r="0.7" fill="#9c9c9c"/>
<circle cx="374.09" cy="679.45" r="0.7" fill="#9c9c9c"/>
<circle cx="374.09" cy="676.55" r="0.7" fill="#9c9c9c"/>
<circle cx="376.60" cy="675.10" r="0.7" fill="#9c9c9c"/>
<circle cx="379.11" cy="676.55" r="0.7" fill="#9c9c9c"/>
<circle cx="411.30" cy="678.00" r="5.5" fill="#121212"/>
<circle cx="413.81" cy="679.45" r="0.7" fill="#9c9c9c"/>
<circle cx="411.30" cy="680.90" r="0.7" fill="#9c9c9c"/>
<circle cx="408.79" cy="679.45" r="0.7" fill="#9c9c9c"/>
<circle cx="408.79" cy="676.55" r="0.7" fill="#9c9c9c"/>
<circle cx="411.30" cy="675.10" r="0.7" fill="#9c9c9c"/>
<circle cx="413.81" cy="676.55" r="0.7" fill="#9c9c9c"/>
<circle cx="446.30" cy="678.00" r="5.5" fill="#121212"/>
<circle cx="448.81" cy="679.45" r="0.7" fill="#9c9c9c"/>
<circle cx="446.30" cy="680.90" r="0.7" fill="#9c9c9c"/>
<circle cx="443.79" cy="679.45" r="0.7" fill="#9c9c9c"/>
<circle cx="443.79" cy="676.55" r="0.7" fill="#9c9c9c"/>
<circle cx="446.30" cy="675.10" r="0.7" fill="#9c9c9c"/>
<circle cx="448.81" cy="676.55" r="0.7" fill="#9c9c9c"/>
<circle cx="481.30" cy="678.00" r="5.5" fill="#121212"/>
<circle cx="483.81" cy="679.45" r="0.7" fill="#9c9c9c"/>
<circle cx="481.30" cy="680.90" r="0.7" fill="#9c9c9c"/>
<circle cx="478.79" cy="679.45" r="0.7" fill="#9c9c9c"/>
<circle cx="478.79" cy="676.55" r="0.7" fill="#9c9c9c"/>
<circle cx="481.30" cy="675.10" r="0.7" fill="#9c9c9c"/>
<circle cx="483.81" cy="676.55" r="0.7" fill="#9c9c9c"/>
<circle cx="516.00" cy="678.00" r="5.5" fill="#121212"/>
<circle cx="518.51" cy="679.45" r="0.7" fill="#9c9c9c"/>
<circle cx="516.00" cy="680.90" r="0.7" fill="#9c9c9c"/>
<circle cx="513.49" cy="679.45" r="0.7" fill="#9c9c9c"/>
<circle cx="513.49" cy="676.55" r="0.7" fill="#9c9c9c"/>
<circle cx="516.00" cy="675.10" r="0.7" fill="#9c9c9c"/>
<circle cx="518.51" cy="676.55" r="0.7" fill="#9c9c9c"/>
<circle cx="558.00" cy="678.00" r="5.5" fill="#121212"/>
<circle cx="560.51" cy="679.45" r="0.7" fill="#9c9c9c"/>
<circle cx="558.00" cy="680.90" r="0.7" fill="#9c9c9c"/>
<circle cx="555.49" cy="679.45" r="0.7" fill="#9c9c9c"/>
<circle cx="555.49" cy="676.55" r="0.7" fill="#9c9c9c"/>
<circle cx="558.00" cy="675.10" r="0.7" fill="#9c9c9c"/>
<circle cx="560.51" cy="676.55" r="0.7" fill="#9c9c9c"/>
<circle cx="578.70" cy="678.00" r="5.5" fill="#121212"/>
<circle cx="581.21" cy="679.45" r="0.7" fill="#9c9c9c"/>
<circle cx="578.70" cy="680.90" r="0.7" fill="#9c9c9c"/>
<circle cx="576.19" cy="679.45" r="0.7" fill="#9c9c9c"/>
<circle cx="576.19" cy="676.55" r="0.7" fill="#9c9c9c"/>
<circle cx="578.70" cy="675.10" r="0.7" fill="#9c9c9c"/>
<circle cx="581.21" cy="676.55" r="0.7" fill="#9c9c9c"/>
<circle cx="620.90" cy="678.00" r="5.5" fill="#121212"/>
<circle cx="623.41" cy="679.45" r="0.7" fill="#9c9c9c"/>
<circle cx="620.90" cy="680.90" r="0.7" fill="#9c9c9c"/>
<circle cx="618.39" cy="679.45" r="0.7" fill="#9c9c9c"/>
<circle cx="618.39" cy="676.55" r="0.7" fill="#9c9c9c"/>
<circle cx="620.90" cy="675.10" r="0.7" fill="#9c9c9c"/>
<circle cx="623.41" cy="676.55" r="0.7" fill="#9c9c9c"/>
<circle cx="287.25" cy="662.80" r="5.5" fill="#121212"/>
<circle cx="289.76" cy="664.25" r="0.7" fill="#9c9c9c"/>
<circle cx="287.25" cy="665.70" r="0.7" fill="#9c9c9c"/>
<circle cx="284.74" cy="664.25" r="0.7" fill="#9c9c9c"/>
<circle cx="284.74" cy="661.35" r="0.7" fill="#9c9c9c"/>
<circle cx="287.25" cy="659.90" r="0.7" fill="#9c9c9c"/>
<circle cx="289.76" cy="661.35" r="0.7" fill="#9c9c9c"/>
<circle cx="287.25" cy="693.20" r="5.5" fill="#121212"/>
<circle cx="289.76" cy="694.65" r="0.7" fill="#9c9c9c"/>
<circle cx="287.25" cy="696.10" r="0.7" fill="#9c9c9c"/>
<circle cx="284.74" cy="694.65" r="0.7" fill="#9c9c9c"/>
<circle cx="284.74" cy="691.75" r="0.7" fill="#9c9c9c"/>
<circle cx="287.25" cy="690.30" r="0.7" fill="#9c9c9c"/>
<circle cx="289.76" cy="691.75" r="0.7" fill="#9c9c9c"/>
<circle cx="318.30" cy="659.00" r="5.5" fill="#121212"/>
<circle cx="320.81" cy="660.45" r="0.7" fill="#9c9c9c"/>
<circle cx="318.30" cy="661.90" r="0.7" fill="#9c9c9c"/>
<circle cx="315.79" cy="660.45" r="0.7" fill="#9c9c9c"/>
<circle cx="315.79" cy="657.55" r="0.7" fill="#9c9c9c"/>
<circle cx="318.30" cy="656.10" r="0.7" fill="#9c9c9c"/>
<circle cx="320.81" cy="657.55" r="0.7" fill="#9c9c9c"/>
<circle cx="318.30" cy="697.00" r="5.5" fill="#121212"/>
<circle cx="320.81" cy="698.45" r="0.7" fill="#9c9c9c"/>
<circle cx="318.30" cy="699.90" r="0.7" fill="#9c9c9c"/>
<circle cx="315.79" cy="698.45" r="0.7" fill="#9c9c9c"/>
<circle cx="315.79" cy="695.55" r="0.7" fill="#9c9c9c"/>
<circle cx="318.30" cy="694.10" r="0.7" fill="#9c9c9c"/>
<circle cx="320.81" cy="695.55" r="0.7" fill="#9c9c9c"/>
<circle cx="349.50" cy="656.00" r="5.5" fill="#121212"/>
<circle cx="352.01" cy="657.45" r="0.7" fill="#9c9c9c"/>
<circle cx="349.50" cy="658.90" r="0.7" fill="#9c9c9c"/>
<circle cx="346.99" cy="657.45" r="0.7" fill="#9c9c9c"/>
<circle cx="346.99" cy="654.55" r="0.7" fill="#9c9c9c"/>
<circle cx="349.50" cy="653.10" r="0.7" fill="#9c9c9c"/>
<circle cx="352.01" cy="654.55" r="0.7" fill="#9c9c9c"/>
<circle cx="349.50" cy="700.00" r="5.5" fill="#121212"/>
<circle cx="352.01" cy="701.45" r="0.7" fill="#9c9c9c"/>
<circle cx="349.50" cy="702.90" r="0.7" fill="#9c9c9c"/>
<circle cx="346.99" cy="701.45" r="0.7" fill="#9c9c9c"/>
<circle cx="346.99" cy="698.55" r="0.7" fill="#9c9c9c"/>
<circle cx="349.50" cy="697.10" r="0.7" fill="#9c9c9c"/>
<circle cx="352.01" cy="698.55" r="0.7" fill="#9c9c9c"/>
<circle cx="381.50" cy="654.20" r="5.5" fill="#121212"/>
<circle cx="384.01" cy="655.65" r="0.7" fill="#9c9c9c"/>
<circle cx="381.50" cy="657.10" r="0.7" fill="#9c9c9c"/>
<circle cx="378.99" cy="655.65" r="0.7" fill="#9c9c9c"/>
<circle cx="378.99" cy="652.75" r="0.7" fill="#9c9c9c"/>
<circle cx="381.50" cy="651.30" r="0.7" fill="#9c9c9c"/>
<circle cx="384.01" cy="652.75" r="0.7" fill="#9c9c9c"/>
<circle cx="381.50" cy="701.80" r="5.5" fill="#121212"/>
<circle cx="384.01" cy="703.25" r="0.7" fill="#9c9c9c"/>
<circle cx="381.50" cy="704.70" r="0.7" fill="#9c9c9c"/>
<circle cx="378.99" cy="703.25" r="0.7" fill="#9c9c9c"/>
<circle cx="378.99" cy="700.35" r="0.7" fill="#9c9c9c"/>
<circle cx="381.50" cy="698.90" r="0.7" fill="#9c9c9c"/>
<circle cx="384.01" cy="700.35" r="0.7" fill="#9c9c9c"/>
<circle cx="413.20" cy="653.80" r="5.5" fill="#121212"/>
<circle cx="415.71" cy="655.25" r="0.7" fill="#9c9c9c"/>
<circle cx="413.20" cy="656.70" r="0.7" fill="#9c9c9c"/>
<circle cx="410.69" cy="655.25" r="0.7" fill="#9c9c9c"/>
<circle cx="410.69" cy="652.35" r="0.7" fill="#9c9c9c"/>
<circle cx="413.20" cy="650.90" r="0.7" fill="#9c9c9c"/>
<circle cx="415.71" cy="652.35" r="0.7" fill="#9c9c9c"/>
<circle cx="413.20" cy="702.20" r="5.5" fill="#121212"/>
<circle cx="415.71" cy="703.65" r="0.7" fill="#9c9c9c"/>
<circle cx="413.20" cy="705.10" r="0.7" fill="#9c9c9c"/>
<circle cx="410.69" cy="703.65" r="0.7" fill="#9c9c9c"/>
<circle cx="410.69" cy="700.75" r="0.7" fill="#9c9c9c"/>
<circle cx="413.20" cy="699.30" r="0.7" fill="#9c9c9c"/>
<circle cx="415.71" cy="700.75" r="0.7" fill="#9c9c9c"/>
<circle cx="444.50" cy="653.80" r="5.5" fill="#121212"/>
<circle cx="447.01" cy="655.25" r="0.7" fill="#9c9c9c"/>
<circle cx="444.50" cy="656.70" r="0.7" fill="#9c9c9c"/>
<circle cx="441.99" cy="655.25" r="0.7" fill="#9c9c9c"/>
<circle cx="441.99" cy="652.35" r="0.7" fill="#9c9c9c"/>
<circle cx="444.50" cy="650.90" r="0.7" fill="#9c9c9c"/>
<circle cx="447.01" cy="652.35" r="0.7" fill="#9c9c9c"/>
<circle cx="444.50" cy="702.20" r="5.5" fill="#121212"/>
<circle cx="447.01" cy="703.65" r="0.7" fill="#9c9c9c"/>
<circle cx="444.50" cy="705.10" r="0.7" fill="#9c9c9c"/>
<circle cx="441.99" cy="703.65" r="0.7" fill="#9c9c9c"/>
<circle cx="441.99" cy="700.75" r="0.7" fill="#9c9c9c"/>
<circle cx="444.50" cy="699.30" r="0.7" fill="#9c9c9c"/>
<circle cx="447.01" cy="700.75" r="0.7" fill="#9c9c9c"/>
<circle cx="476.50" cy="654.20" r="5.5" fill="#121212"/>
<circle cx="479.01" cy="655.65" r="0.7" fill="#9c9c9c"/>
<circle cx="476.50" cy="657.10" r="0.7" fill="#9c9c9c"/>
<circle cx="473.99" cy="655.65" r="0.7" fill="#9c9c9c"/>
<circle cx="473.99" cy="652.75" r="0.7" fill="#9c9c9c"/>
<circle cx="476.50" cy="651.30" r="0.7" fill="#9c9c9c"/>
<circle cx="479.01" cy="652.75" r="0.7" fill="#9c9c9c"/>
<circle cx="476.50" cy="701.80" r="5.5" fill="#121212"/>
<circle cx="479.01" cy="703.25" r="0.7" fill="#9c9c9c"/>
<circle cx="476.50" cy="704.70" r="0.7" fill="#9c9c9c"/>
<circle cx="473.99" cy="703.25" r="0.7" fill="#9c9c9c"/>
<circle cx="473.99" cy="700.35" r="0.7" fill="#9c9c9c"/>
<circle cx="476.50" cy="698.90" r="0.7" fill="#9c9c9c"/>
<circle cx="479.01" cy="700.35" r="0.7" fill="#9c9c9c"/>
<circle cx="507.75" cy="656.00" r="5.5" fill="#121212"/>
<circle cx="510.26" cy="657.45" r="0.7" fill="#9c9c9c"/>
<circle cx="507.75" cy="658.90" r="0.7" fill="#9c9c9c"/>
<circle cx="505.24" cy="657.45" r="0.7" fill="#9c9c9c"/>
<circle cx="505.24" cy="654.55" r="0.7" fill="#9c9c9c"/>
<circle cx="507.75" cy="653.10" r="0.7" fill="#9c9c9c"/>
<circle cx="510.26" cy="654.55" r="0.7" fill="#9c9c9c"/>
<circle cx="507.75" cy="700.00" r="5.5" fill="#121212"/>
<circle cx="510.26" cy="701.45" r="0.7" fill="#9c9c9c"/>
<circle cx="507.75" cy="702.90" r="0.7" fill="#9c9c9c"/>
<circle cx="505.24" cy="701.45" r="0.7" fill="#9c9c9c"/>
<circle cx="505.24" cy="698.55" r="0.7" fill="#9c9c9c"/>
<circle cx="507.75" cy="697.10" r="0.7" fill="#9c9c9c"/>
<circle cx="510.26" cy="698.55" r="0.7" fill="#9c9c9c"/>
<circle cx="547.60" cy="660.70" r="5.5" fill="#121212"/>
<circle cx="550.11" cy="662.15" r="0.7" fill="#9c9c9c"/>
<circle cx="547.60" cy="663.60" r="0.7" fill="#9c9c9c"/>
<circle cx="545.09" cy="662.15" r="0.7" fill="#9c9c9c"/>
<circle cx="545.09" cy="659.25" r="0.7" fill="#9c9c9c"/>
<circle cx="547.60" cy="657.80" r="0.7" fill="#9c9c9c"/>
<circle cx="550.11" cy="659.25" r="0.7" fill="#9c9c9c"/>
<circle cx="547.60" cy="695.30" r="5.5" fill="#121212"/>
<circle cx="550.11" cy="696.75" r="0.7" fill="#9c9c9c"/>
<circle cx="547.60" cy="698.20" r="0.7" fill="#9c9c9c"/>
<circle cx="545.09" cy="696.75" r="0.7" fill="#9c9c9c"/>
<circle cx="545.09" cy="693.85" r="0.7" fill="#9c9c9c"/>
<circle cx="547.60" cy="692.40" r="0.7" fill="#9c9c9c"/>
<circle cx="550.11" cy="693.85" r="0.7" fill="#9c9c9c"/>
<circle cx="217.2" cy="678.0" r="2.9" fill="#fff" stroke="#121212" stroke-width="1.2"/>
<circle cx="640.2" cy="678.0" r="2.9" fill="#fff" stroke="#121212" stroke-width="1.2"/>
<circle cx="331.2" cy="656.0" r="2.9" fill="#fff" stroke="#121212" stroke-width="1.2"/>
<circle cx="331.2" cy="700.3" r="2.9" fill="#fff" stroke="#121212" stroke-width="1.2"/>
<circle cx="428.6" cy="651.5" r="2.9" fill="#fff" stroke="#121212" stroke-width="1.2"/>
<circle cx="428.6" cy="704.3" r="2.9" fill="#fff" stroke="#121212" stroke-width="1.2"/>
<circle cx="525.8" cy="655.8" r="2.9" fill="#fff" stroke="#121212" stroke-width="1.2"/>
<circle cx="525.8" cy="700.3" r="2.9" fill="#fff" stroke="#121212" stroke-width="1.2"/>
</g>
</svg>
</body></html>
